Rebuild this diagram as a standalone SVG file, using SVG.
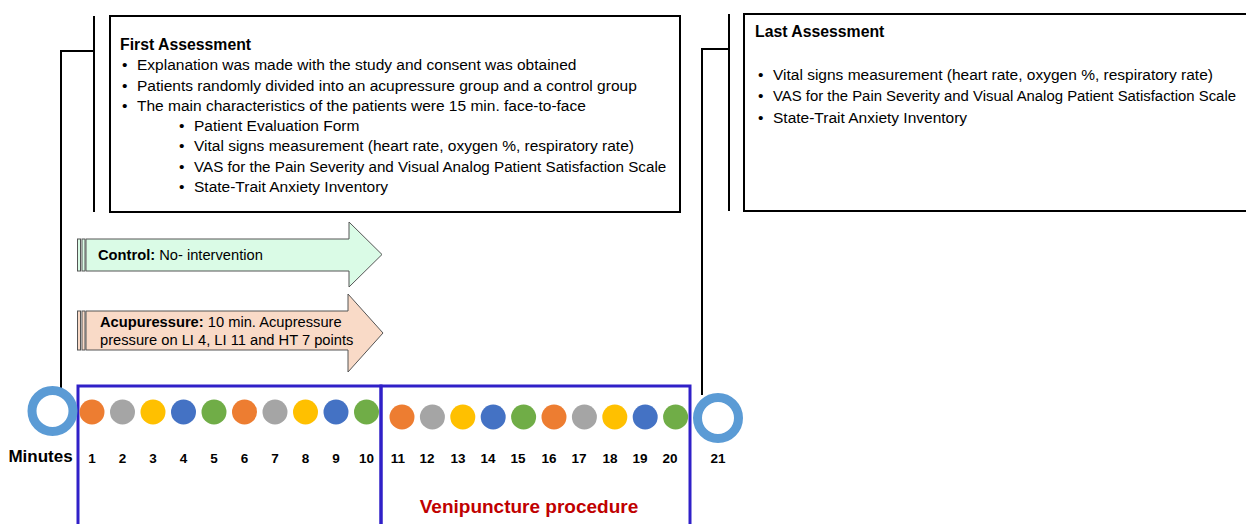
<svg xmlns="http://www.w3.org/2000/svg" width="1246" height="524" viewBox="0 0 1246 524">
<style>
text{font-family:"Liberation Sans",Arial,sans-serif;fill:#000}
.t{font-size:15.5px}
.a{font-size:14.7px}
.h{font-size:15.8px;font-weight:bold}
.b{font-weight:bold}
.num{font-size:13.5px;font-weight:bold;text-anchor:middle}
.box{fill:#fff;stroke:#000;stroke-width:2}
.ln{fill:none;stroke:#000;stroke-width:2}
.blue{fill:none;stroke:#3020C8;stroke-width:3}
.ring{fill:none;stroke:#5B9BD5;stroke-width:9}
.o{fill:#ED7D31}.g{fill:#A5A5A5}.y{fill:#FFC000}.bl{fill:#4472C4}.gr{fill:#70AD47}
.arrG{fill:#DAFBE6;stroke:#555;stroke-width:1}
.arrP{fill:#F9DAC7;stroke:#555;stroke-width:1}
</style>

<g id="connectors">
<line class="ln" x1="94" y1="16" x2="94" y2="212"/>
<polyline class="ln" points="94,51 61,51 61,393"/>
<line class="ln" x1="729" y1="14" x2="729" y2="211"/>
<polyline class="ln" points="729,49 702,49 702,395"/>
</g>

<g id="first-assessment">
<rect class="box" x="110" y="16" width="570" height="196"/>
<text class="h" x="120" y="50">First Assessment</text>
<g class="t">
<text x="122" y="70">•</text><text x="137" y="70">Explanation was made with the study and consent was obtained</text>
<text x="122" y="91">•</text><text x="137" y="91">Patients randomly divided into an acupressure group and a control group</text>
<text x="122" y="111">•</text><text x="137" y="111">The main characteristics of the patients were 15 min. face-to-face</text>
<text x="179" y="131">•</text><text x="194" y="131">Patient Evaluation Form</text>
<text x="179" y="151">•</text><text x="194" y="151">Vital signs measurement (heart rate, oxygen %, respiratory rate)</text>
<text x="179" y="172">•</text><text x="194" y="172" style="font-size:15.2px">VAS for the Pain Severity and Visual Analog Patient Satisfaction Scale</text>
<text x="179" y="192">•</text><text x="194" y="192">State-Trait Anxiety Inventory</text>
</g>
</g>

<g id="last-assessment">
<rect class="box" x="744" y="14" width="510" height="197"/>
<text class="h" x="755" y="37">Last Assessment</text>
<g class="t">
<text x="758" y="80">•</text><text x="773" y="80">Vital signs measurement (heart rate, oxygen %, respiratory rate)</text>
<text x="758" y="101">•</text><text x="773" y="101" style="font-size:14.9px">VAS for the Pain Severity and Visual Analog Patient Satisfaction Scale</text>
<text x="758" y="123">•</text><text x="773" y="123">State-Trait Anxiety Inventory</text>
</g>
</g>

<g id="control-arrow">
<rect class="arrG" x="77.5" y="239" width="3" height="32"/>
<rect class="arrG" x="82" y="239" width="3" height="32"/>
<polygon class="arrG" points="86,239 349,239 349,222 382,254.5 349,287 349,271 86,271"/>
<text class="a" x="98" y="260"><tspan class="b">Control:</tspan> No- intervention</text>
</g>

<g id="acupressure-arrow">
<rect class="arrP" x="77.5" y="311" width="3" height="39"/>
<rect class="arrP" x="82" y="311" width="3" height="39"/>
<polygon class="arrP" points="86,311 348,311 348,294 383,333 348,372 348,350 86,350"/>
<text class="a" x="100" y="327"><tspan class="b">Acupuressure:</tspan> 10 min. Acupressure</text>
<text class="a" x="100" y="345">pressure on LI 4, LI 11 and HT 7 points</text>
</g>

<g id="phase-boxes">
<rect class="blue" x="78" y="386" width="303" height="160"/>
<rect class="blue" x="381" y="386" width="309" height="160"/>
<text x="529" y="513" style="font-size:19px;font-weight:bold;fill:#C00000;text-anchor:middle">Venipuncture procedure</text>
</g>

<g id="start-node">
<circle class="ring" cx="52.5" cy="411" r="20.5"/>
<text x="40.5" y="462" style="font-size:17px;font-weight:bold;text-anchor:middle">Minutes</text>
</g>

<g id="end-node">
<circle class="ring" cx="718" cy="418" r="20.5"/>
<text class="num" x="718" y="463">21</text>
</g>

<g id="minutes-1-10">
<circle class="o" cx="92" cy="412" r="12.5"/>
<circle class="g" cx="122.5" cy="412" r="12.5"/>
<circle class="y" cx="153" cy="412" r="12.5"/>
<circle class="bl" cx="183.5" cy="412" r="12.5"/>
<circle class="gr" cx="214" cy="412" r="12.5"/>
<circle class="o" cx="244.5" cy="412" r="12.5"/>
<circle class="g" cx="275" cy="412" r="12.5"/>
<circle class="y" cx="305.5" cy="412" r="12.5"/>
<circle class="bl" cx="336" cy="412" r="12.5"/>
<circle class="gr" cx="366.5" cy="412" r="12.5"/>
<text class="num" x="92" y="463">1</text>
<text class="num" x="122.5" y="463">2</text>
<text class="num" x="153" y="463">3</text>
<text class="num" x="183.5" y="463">4</text>
<text class="num" x="214" y="463">5</text>
<text class="num" x="244.5" y="463">6</text>
<text class="num" x="275" y="463">7</text>
<text class="num" x="305.5" y="463">8</text>
<text class="num" x="336" y="463">9</text>
<text class="num" x="366.5" y="463">10</text>
</g>

<g id="minutes-11-20">
<circle class="o" cx="402" cy="417" r="12.5"/>
<circle class="g" cx="432.4" cy="417" r="12.5"/>
<circle class="y" cx="462.8" cy="417" r="12.5"/>
<circle class="bl" cx="493.2" cy="417" r="12.5"/>
<circle class="gr" cx="523.6" cy="417" r="12.5"/>
<circle class="o" cx="554" cy="417" r="12.5"/>
<circle class="g" cx="584.4" cy="417" r="12.5"/>
<circle class="y" cx="614.8" cy="417" r="12.5"/>
<circle class="bl" cx="645.2" cy="417" r="12.5"/>
<circle class="gr" cx="675.6" cy="417" r="12.5"/>
<text class="num" x="398" y="463">11</text>
<text class="num" x="427" y="463">12</text>
<text class="num" x="458" y="463">13</text>
<text class="num" x="488" y="463">14</text>
<text class="num" x="518" y="463">15</text>
<text class="num" x="549" y="463">16</text>
<text class="num" x="579" y="463">17</text>
<text class="num" x="610" y="463">18</text>
<text class="num" x="640" y="463">19</text>
<text class="num" x="670" y="463">20</text>
</g>
</svg>
